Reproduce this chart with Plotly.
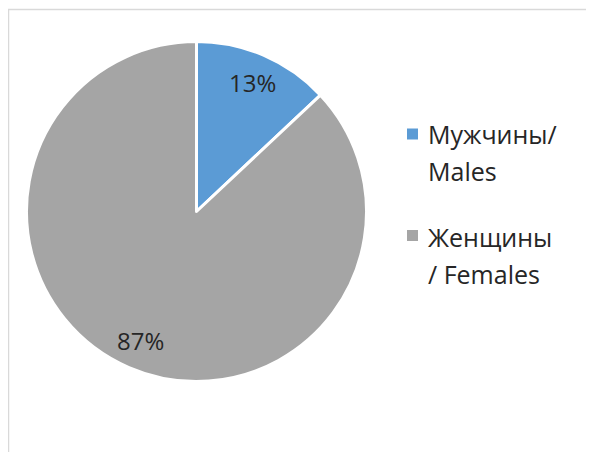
import math
import plotly.graph_objects as go

categories = ["Мужчины/ Males", "Женщины / Females"]
legend_lines = [["Мужчины/", "Males"], ["Женщины", "/ Females"]]
values = [13, 87]
colors = ["#5B9BD5", "#A5A5A5"]

W, H = 594, 452
FONT = "Open Sans"
OFF = 8  # page body margin offset

# pie geometry (target pixels in the screenshot)
cx, cy, R = 196.5 - OFF, 211.5 - OFF, 170

fig = go.Figure()
fig.add_trace(go.Pie(
    labels=categories, values=values, sort=False, direction="clockwise",
    rotation=0, marker=dict(colors=colors, line=dict(color="white", width=3)),
    textinfo="none", hoverinfo="label+percent", showlegend=False,
    domain=dict(x=[(cx - R) / W, (cx + R) / W], y=[1 - (cy + R) / H, 1 - (cy - R) / H]),
))

annotations = []
total = sum(values)
cum = 0
for v in values:
    mid = (cum + v / 2) / total
    cum += v
    ang = 2 * math.pi * mid
    px = cx + 0.83 * R * math.sin(ang)
    py = cy - 0.83 * R * math.cos(ang)
    annotations.append(dict(
        x=px / W, y=1 - py / H, xref="paper", yref="paper",
        text=f"{round(100 * v / total)}%", showarrow=False,
        font=dict(family=FONT, size=24, color="#262626"),
        xanchor="center", yanchor="middle"))

shapes = [dict(type="rect", xref="paper", yref="paper",
               x0=(8.5 - OFF) / W, x1=1.1, y0=-0.1, y1=1 - (9.5 - OFF) / H,
               line=dict(color="#D9D9D9", width=1.5), fillcolor="rgba(0,0,0,0)")]

# legend
entry_top = [133.5 - OFF, 237 - OFF]
marker_c = [134 - OFF, 235.5 - OFF]
for i, lines in enumerate(legend_lines):
    y0 = entry_top[i]
    shapes.append(dict(type="rect", xref="paper", yref="paper",
                       x0=(407 - OFF) / W, x1=(418 - OFF) / W,
                       y0=1 - (marker_c[i] + 5.5) / H, y1=1 - (marker_c[i] - 5.5) / H,
                       line=dict(width=0), fillcolor=colors[i]))
    for j, t in enumerate(lines):
        annotations.append(dict(
            x=(426 - OFF) / W, y=1 - (y0 + j * 37) / H, xref="paper", yref="paper",
            text=t, showarrow=False, font=dict(family=FONT, size=25, color="#262626"),
            xanchor="left", yanchor="middle"))

fig.update_layout(
    width=W, height=H, margin=dict(l=0, r=0, t=0, b=0),
    paper_bgcolor="white", plot_bgcolor="white",
    annotations=annotations, shapes=shapes, showlegend=False,
)
fig.write_html("out.html")
